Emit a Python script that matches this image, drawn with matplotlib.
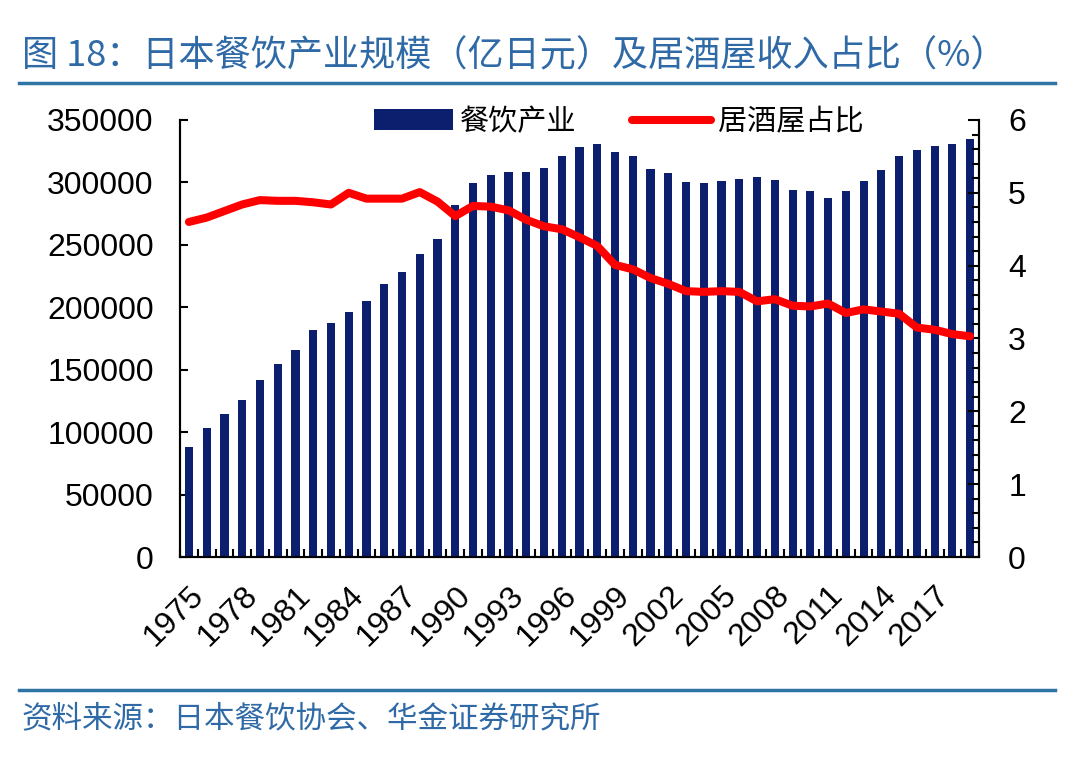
import numpy as np
import matplotlib
matplotlib.use("Agg")
import matplotlib.pyplot as plt
from matplotlib.lines import Line2D
from matplotlib.ticker import MultipleLocator, FixedLocator

plt.rcParams["font.family"] = ["Liberation Sans", "Noto Sans CJK SC", "DejaVu Sans"]

years = list(range(1975, 2020))
industry = [87700, 103500, 114400, 125900, 142000, 154300, 165500, 182100, 187400, 196000,
            204800, 218400, 228300, 243000, 254500, 281800, 299900, 306100, 308000, 308300,
            311200, 320900, 328000, 330500, 324100, 321400, 311000, 307800, 300000, 299500,
            300800, 302900, 304000, 301600, 293900, 293300, 287400, 292800, 301300, 309900,
            321400, 326200, 329100, 330500, 334500]
izakaya_share = [4.60, 4.66, 4.75, 4.84, 4.90, 4.89, 4.89, 4.87, 4.84, 5.00,
                 4.92, 4.92, 4.92, 5.01, 4.88, 4.68, 4.82, 4.81, 4.76, 4.63,
                 4.54, 4.50, 4.39, 4.27, 4.01, 3.95, 3.83, 3.75, 3.65, 3.64,
                 3.65, 3.64, 3.51, 3.54, 3.45, 3.44, 3.48, 3.35, 3.40, 3.37,
                 3.34, 3.15, 3.12, 3.06, 3.03]

NAVY = "#0b1f6e"
RED = "#ff0000"
BLUE = "#2f6aa6"
CJK = ["Noto Sans CJK SC", "DejaVu Sans"]

fig = plt.figure(figsize=(10.8, 7.57), dpi=100)
ax = fig.add_axes([0.1667, 0.2642, 0.7398, 0.5773])
ax2 = ax.twinx()

x = np.arange(len(years))
bars = ax.bar(x, industry, width=0.46, color=NAVY, label="餐饮产业", zorder=2)
line, = ax2.plot(x, izakaya_share, color=RED, lw=5.8, solid_capstyle="round",
                 solid_joinstyle="round", label="居酒屋占比", zorder=3)

ax.set_xlim(-0.5, len(years) - 0.5)
ax.set_ylim(0, 350000)
ax2.set_ylim(0, 6)
ax.set_zorder(1)
ax2.set_zorder(2)
ax.patch.set_visible(False)

ax.yaxis.set_major_locator(MultipleLocator(50000))
ax2.yaxis.set_major_locator(MultipleLocator(1))
ax2.yaxis.set_minor_locator(MultipleLocator(0.2))

ax.xaxis.set_major_locator(FixedLocator(x[::3]))
ax.set_xticklabels([str(y) for y in years[::3]], rotation=45, ha="right",
                   rotation_mode="anchor", fontsize=23)
ax.xaxis.set_minor_locator(FixedLocator(np.arange(-0.5, len(years), 1.0)))
ax.tick_params(axis="x", which="major", length=0, pad=17)
ax.tick_params(axis="x", which="minor", direction="in", length=6, width=1.5)
ax.tick_params(axis="y", direction="in", length=6, width=1.5, labelsize=23, pad=19)
ax2.tick_params(axis="y", which="major", direction="in", length=8, width=1.5,
                labelsize=23, pad=21)
ax2.tick_params(axis="y", which="minor", direction="in", length=5, width=1.5)

for a in (ax, ax2):
    a.spines["top"].set_visible(False)
    for s in ("left", "right", "bottom"):
        a.spines[s].set_linewidth(1.5)

ax.legend([bars, line], ["餐饮产业", "居酒屋占比"], loc="upper center",
          bbox_to_anchor=(0.549, 1.09), ncol=2, frameon=False,
          prop={"family": CJK, "size": 21}, handlelength=2.7, columnspacing=1.9,
          handletextpad=0.25)

fig.text(0.02, 0.925, "图 18：日本餐饮产业规模（亿日元）及居酒屋收入占比（%）",
         fontsize=26, color=BLUE, family=CJK, va="center")
fig.add_artist(Line2D([0.018, 0.977], [0.891, 0.891], color="#2e75a6", lw=2.5))
fig.add_artist(Line2D([0.018, 0.977], [0.089, 0.089], color="#2e75a6", lw=2.5))
fig.text(0.02, 0.05, "资料来源：日本餐饮协会、华金证券研究所", fontsize=22,
         color=BLUE, family=CJK, style="italic", va="center")

fig.savefig("out.png", dpi=100)
